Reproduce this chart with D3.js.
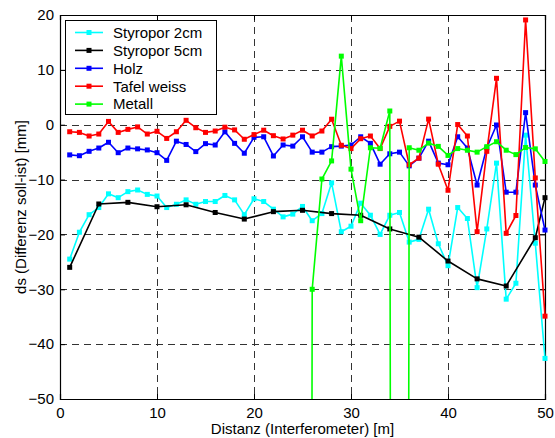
<!DOCTYPE html>
<html><head><meta charset="utf-8">
<script src="https://cdn.jsdelivr.net/npm/d3@7/dist/d3.min.js"></script>
<style>body{margin:0;background:#fff;} text{font-family:"Liberation Sans",Arial,sans-serif;}</style>
</head><body>
<svg id="chart" width="555" height="438"></svg>
<script>
const distanceAll = [1,2,3,4,5,6,7,8,9,10,11,12,13,14,15,16,17,18,19,20,21,22,23,24,25,26,27,28,29,30,31,32,33,34,35,36,37,38,39,40,41,42,43,44,45,46,47,48,49,50];
const styropor2 = [-24.5,-19.6,-16.4,-15.1,-12.6,-13.3,-12.2,-11.9,-12.7,-13.0,-15.1,-14.5,-13.7,-14.5,-14.0,-14.0,-12.9,-13.7,-16.4,-13.5,-14.0,-15.4,-16.8,-16.3,-14.9,-17.5,-16.2,-10.6,-19.5,-18.5,-14.3,-16.5,-20.0,-16.5,-16.0,-21.4,-20.9,-15.4,-21.7,-25.7,-15.1,-17.1,-29.7,-19.0,-7.0,-31.8,-28.9,-1.9,-21.6,-42.6];
const distance5 = [1,4,7,10,13,16,19,22,25,28,31,34,37,40,43,46,49,50];
const styropor5 = [-26.0,-14.45,-14.15,-14.95,-14.6,-16.0,-17.2,-15.85,-15.6,-16.2,-16.5,-19.0,-20.5,-24.85,-28.1,-29.4,-20.6,-13.3];
const holz = [-5.5,-5.65,-4.85,-4.25,-3.2,-5.1,-4.25,-4.4,-4.6,-5.1,-6.5,-3.0,-3.6,-4.9,-3.45,-3.7,-1.3,-3.4,-5.2,-2.3,-2.2,-5.7,-3.7,-3.9,-2.2,-5.0,-5.0,-4.0,-3.9,-3.7,-2.2,-3.4,-7.2,-5.3,-5.0,-7.5,-6.1,-3.0,-7.0,-7.3,-2.2,-4.25,-11.0,-4.2,-0.05,-12.3,-12.3,2.2,-11.0,-19.2];
const tafel = [-1.28,-1.4,-2.06,-1.7,0.6,-1.4,-0.85,-0.4,-1.7,-1.2,-2.5,-1.28,0.8,-0.55,-1.4,-1.15,-0.45,-0.95,-2.65,-1.8,-1.0,-2.0,-2.6,-1.9,-1.0,-2.05,-1.15,1.0,-3.75,-4.35,-2.55,-2.06,-4.35,-0.3,0.65,-7.3,-6.1,1.02,-7.2,-11.95,0.03,-2.06,-19.5,-4.85,8.46,-19.8,-16.55,19.1,-9.7,-34.9];
const distanceMetall = [25,26,27,28,29,30,31,32,33,34,35,36,37,38,39,40,41,42,43,44,45,46,47,48,49,50];
const metall = [-1000,-30.0,-9.9,-6.6,12.5,-8.1,-17.5,-4.2,-4.3,2.5,-1000,-4.2,-4.65,-3.35,-3.95,-5.6,-4.35,-4.65,-5.0,-4.0,-3.1,-4.65,-5.45,-4.15,-4.4,-6.7];
const seriesNames = ["Styropor 2cm","Styropor 5cm","Holz","Tafel weiss","Metall"];
const seriesColors = ["#00ffff","#000000","#0000ff","#ff0000","#00ff00"];
const xTicks = [0,10,20,30,40,50];
const yTicks = [20,10,0,-10,-20,-30,-40,-50];

const series = [
  {x: distanceAll, y: styropor2},
  {x: distance5, y: styropor5},
  {x: distanceAll, y: holz},
  {x: distanceAll, y: tafel},
  {x: distanceMetall, y: metall}
];

const svg = d3.select("#chart");
const L = 60, R = 545, T = 15, B = 399;
const x = d3.scaleLinear().domain([0,50]).range([L,R]);
const y = d3.scaleLinear().domain([-50,20]).range([B,T]);

svg.append("rect").attr("width",555).attr("height",438).attr("fill","#fff");

// grid
const grid = svg.append("g");
xTicks.slice(1,-1).forEach(t=>{
  grid.append("line").attr("x1",Math.round(x(t))+0.5).attr("x2",Math.round(x(t))+0.5)
    .attr("y1",T).attr("y2",B).attr("stroke","#333").attr("stroke-width",1).attr("stroke-dasharray","7,5");
});
yTicks.slice(1,-1).forEach(t=>{
  grid.append("line").attr("y1",Math.round(y(t))+0.5).attr("y2",Math.round(y(t))+0.5)
    .attr("x1",L).attr("x2",R).attr("stroke","#333").attr("stroke-width",1).attr("stroke-dasharray","7,5");
});

// axes
const axB = svg.append("g").attr("transform",`translate(0,${B})`)
  .call(d3.axisBottom(x).tickValues(xTicks).tickSize(-5).tickPadding(8));
const axL = svg.append("g").attr("transform",`translate(${L},0)`)
  .call(d3.axisLeft(y).tickValues(yTicks).tickSize(-5).tickPadding(6));
const axT = svg.append("g").attr("transform",`translate(0,${T})`)
  .call(d3.axisTop(x).tickValues(xTicks).tickSize(-5).tickFormat(""));
const axR = svg.append("g").attr("transform",`translate(${R},0)`)
  .call(d3.axisRight(y).tickValues(yTicks).tickSize(-5).tickFormat(""));
[axB,axL,axT,axR].forEach(a=>{
  a.select(".domain").attr("stroke","#000").attr("stroke-width",1.2);
  a.selectAll(".tick line").attr("stroke","#000");
  a.selectAll("text").attr("font-size","15px").attr("fill","#000")
    .style("font-family","'Liberation Sans',Arial,sans-serif");
});

// data
svg.append("clipPath").attr("id","clip").append("rect")
  .attr("x",L-6).attr("y",T).attr("width",R-L+12).attr("height",B-T);
const plot = svg.append("g").attr("clip-path","url(#clip)");
const line = d3.line().x(d=>x(d[0])).y(d=>y(d[1]));
series.forEach((s,i)=>{
  const pts = s.x.map((v,j)=>[v,s.y[j]]);
  plot.append("path").datum(pts).attr("d",line).attr("fill","none")
    .attr("stroke",seriesColors[i]).attr("stroke-width",1.6).attr("stroke-linejoin","round");
  plot.selectAll(null).data(pts).enter().append("rect")
    .attr("x",d=>x(d[0])-2.5).attr("y",d=>y(d[1])-2.5).attr("width",5).attr("height",5)
    .attr("fill",seriesColors[i]);
});

// legend
const lg = svg.append("g");
lg.append("rect").attr("x",65.5).attr("y",20.5).attr("width",151).attr("height",94)
  .attr("fill","#fff").attr("stroke","#000").attr("stroke-width",1);
seriesNames.forEach((n,i)=>{
  const yy = 32.5 + i*17.9;
  lg.append("line").attr("x1",75).attr("x2",103).attr("y1",yy).attr("y2",yy)
    .attr("stroke",seriesColors[i]).attr("stroke-width",1.6);
  lg.append("rect").attr("x",86.5).attr("y",yy-2.5).attr("width",5).attr("height",5).attr("fill",seriesColors[i]);
  lg.append("text").attr("x",113).attr("y",yy+5.3).attr("font-size","15px").text(n);
});

// labels
svg.append("text").attr("x",(L+R)/2).attr("y",434).attr("text-anchor","middle")
  .attr("font-size","15px").text("Distanz (Interferometer) [m]");
svg.append("text").attr("transform",`translate(26,${(T+B)/2}) rotate(-90)`).attr("text-anchor","middle")
  .attr("font-size","15px").text("ds (Differenz soll-ist) [mm]");
</script>
</body></html>
